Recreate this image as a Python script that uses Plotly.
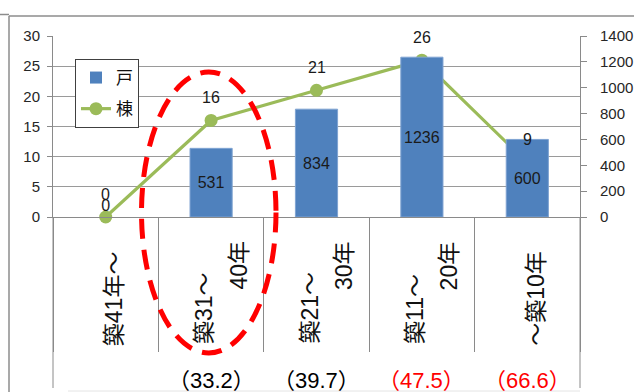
import plotly.graph_objects as go

# ---- data ----
categories = ["築41年～", "築31～<br>40年", "築21～<br>30年", "築11～<br>20年", "～築10年"]
units = [0, 531, 834, 1236, 600]          # 戸 (right axis)
buildings = [0, 16, 21, 26, 9]            # 棟 (left axis)
avg_values = [None, 33.2, 39.7, 47.5, 66.6]
avg_colors = ["black", "black", "black", "red", "red"]
left_ticks = [0, 5, 10, 15, 20, 25, 30]
right_ticks = [0, 200, 400, 600, 800, 1000, 1200, 1400]

# ---- canvas geometry (pixels) ----
W, H = 634, 392
L, R, T, B = 53, 54, 36, 175
PW, PH = W - L - R, H - T - B


def px(x):
    return (x - L) / PW


def py(y):
    return (T + PH - y) / PH


BLUE = "#4F81BD"
GREEN = "#9BBB59"
GRID = "#9a9a9a"
AXIS = "#8a8a8a"
NUM_FONT = "Liberation Sans, Arial, sans-serif"
JP_FONT = "Liberation Sans, Noto Sans CJK JP, sans-serif"

fig = go.Figure()

fig.add_trace(go.Bar(
    x=categories, y=units, name="戸", yaxis="y2",
    marker=dict(color=BLUE, line=dict(color="#7fa3d2",
                                      width=[1 if v > 0 else 0 for v in units])),
    width=0.4,
    text=[str(v) for v in units],
    textposition=["inside" if v > 0 else "outside" for v in units],
    insidetextanchor="middle", textangle=0, constraintext="none",
    textfont=dict(family=NUM_FONT, size=16, color="#1a1a1a"),
    cliponaxis=False, legendgroup="a",
))

fig.add_trace(go.Scatter(
    x=categories, y=buildings, name="棟", mode="lines+markers",
    line=dict(color=GREEN, width=3.2),
    marker=dict(color=GREEN, size=13),
    cliponaxis=False, legendgroup="b",
))

annotations = []
# values above the line points
for c, v in zip(categories, buildings):
    annotations.append(dict(
        x=c, y=v, xref="x", yref="y", text=str(v), showarrow=False,
        yshift=23, font=dict(family=NUM_FONT, size=16, color="#1a1a1a"),
    ))

# rotated category labels, one annotation per line
for i, c in enumerate(categories):
    lines = c.split("<br>")
    if len(lines) == 1:
        annotations.append(dict(
            x=i, y=py(348), xref="x", yref="paper", text=lines[0],
            textangle=-90, showarrow=False, xshift=8,
            xanchor="center", yanchor="bottom",
            font=dict(family=JP_FONT, size=23, color="#111"),
        ))
    else:
        annotations.append(dict(
            x=i, y=py(346), xref="x", yref="paper", text=lines[0],
            textangle=-90, showarrow=False, xshift=-7,
            xanchor="center", yanchor="bottom",
            font=dict(family=JP_FONT, size=23, color="#111"),
        ))
        annotations.append(dict(
            x=i, y=py(239), xref="x", yref="paper", text=lines[1],
            textangle=-90, showarrow=False, xshift=27,
            xanchor="center", yanchor="top",
            font=dict(family=JP_FONT, size=23, color="#111"),
        ))

# bracketed values under each category
for i, (v, col) in enumerate(zip(avg_values, avg_colors)):
    if v is None:
        continue
    annotations.append(dict(
        x=i, y=py(380), xref="x", yref="paper", text=f"（{v}）",
        showarrow=False, yanchor="middle", xanchor="center",
        font=dict(family=JP_FONT, size=22, color=col),
    ))

shapes = [
    # outer frame pieces
    dict(type="line", xref="paper", yref="paper", x0=px(9), x1=px(634), y0=py(16), y1=py(16),
         line=dict(color="#8c8c8c", width=1.5)),
    dict(type="line", xref="paper", yref="paper", x0=px(0), x1=px(9), y0=py(14.5), y1=py(14.5),
         line=dict(color="#8c8c8c", width=1.5)),
    dict(type="line", xref="paper", yref="paper", x0=px(9), x1=px(9), y0=py(16), y1=py(392),
         line=dict(color="#8c8c8c", width=1.5)),
    # axis lines continuing through the label area
    dict(type="line", xref="paper", yref="paper", x0=0, x1=0, y0=0, y1=py(388),
         line=dict(color=AXIS, width=1)),
    dict(type="line", xref="paper", yref="paper", x0=1, x1=1, y0=0, y1=py(388),
         line=dict(color=AXIS, width=1)),
    dict(type="line", xref="paper", yref="paper", x0=px(68), x1=1, y0=py(391), y1=py(391),
         line=dict(color="#e4e4e4", width=1)),
    # dashed highlight ellipse
    dict(type="circle", xref="paper", yref="paper",
         x0=px(141.5), x1=px(276), y0=py(353), y1=py(72),
         line=dict(color="#FF0000", width=5, dash="20px,11px")),
]

fig.update_layout(
    width=W, height=H,
    margin=dict(l=L, r=R, t=T, b=B, pad=0, autoexpand=False),
    paper_bgcolor="white", plot_bgcolor="white",
    showlegend=True,
    legend=dict(
        x=px(75), y=py(59), xanchor="left", yanchor="top",
        bordercolor="#404040", borderwidth=1, bgcolor="white",
        font=dict(family="Noto Sans CJK JP", size=17, color="#111"),
        tracegroupgap=6, itemwidth=30,
    ),
    xaxis=dict(
        type="category", range=[-0.5, 4.5], automargin=False,
        showline=True, linecolor=AXIS, linewidth=1,
        showticklabels=False, tickson="boundaries",
        ticks="outside", ticklen=134, tickcolor=AXIS, tickwidth=1,
        showgrid=False, zeroline=False,
    ),
    yaxis=dict(
        range=[0, 30], tickvals=left_ticks, automargin=False,
        showline=True, linecolor=AXIS, linewidth=1,
        ticks="outside", ticklen=5, tickcolor=AXIS,
        showgrid=True, gridcolor=GRID, gridwidth=1, zeroline=False,
        tickfont=dict(family=NUM_FONT, size=15, color="#262626"),
        ticklabelstandoff=4,
    ),
    yaxis2=dict(
        range=[0, 1400], tickvals=right_ticks, overlaying="y", side="right",
        automargin=False,
        showline=True, linecolor=AXIS, linewidth=1,
        ticks="outside", ticklen=6, tickcolor=AXIS,
        showgrid=False, zeroline=False,
        tickfont=dict(family=NUM_FONT, size=15, color="#262626"),
        ticklabelstandoff=10,
    ),
    annotations=annotations,
    shapes=shapes,
)

fig.write_html("out.html")
